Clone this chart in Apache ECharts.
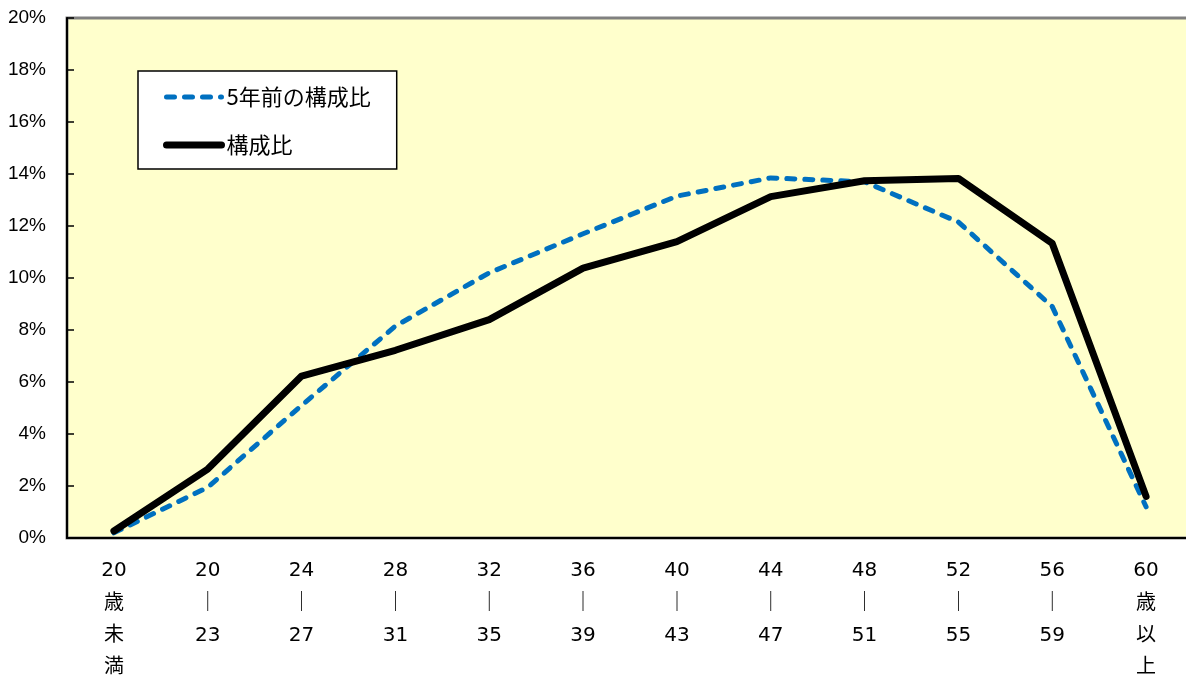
<!DOCTYPE html>
<html>
<head>
<meta charset="utf-8">
<script src="https://cdn.jsdelivr.net/npm/echarts@6/dist/echarts.min.js"></script>
<style>
  html, body { margin: 0; padding: 0; background: #ffffff; }
  #chart { width: 1186px; height: 680px; }
</style>
</head>
<body>
<div id="chart"></div>
<script>
// Age bands (years of age) shown along the horizontal axis
const categories = [
  '20\n歳\n未\n満', '20\n｜\n23', '24\n｜\n27', '28\n｜\n31', '32\n｜\n35', '36\n｜\n39',
  '40\n｜\n43', '44\n｜\n47', '48\n｜\n51', '52\n｜\n55', '56\n｜\n59', '60\n歳\n以\n上'
];

// Share of each age band (%)
const prevShare = [0.2, 1.95, 5.1, 8.15, 10.2, 11.7, 13.15, 13.85, 13.7, 12.15, 8.9, 1.2];
const currShare = [0.27, 2.65, 6.23, 7.22, 8.4, 10.38, 11.4, 13.13, 13.74, 13.83, 11.33, 1.6];

const seriesNames = ['5年前の構成比', '構成比'];
const yTicks = { min: 0, max: 20, interval: 2 };

const BLUE = '#0070C0';
const jpFont = '"Noto Sans CJK JP", "Noto Sans", sans-serif';
const numFont = '"DejaVu Sans", "Noto Sans CJK JP", sans-serif';

const blueLine = { color: BLUE, width: 5, type: [8, 10], cap: 'round', join: 'round' };
const blackLine = { color: '#000000', width: 7, cap: 'round', join: 'round' };

const chart = echarts.init(document.getElementById('chart'));

chart.setOption({
  animation: false,
  backgroundColor: '#ffffff',
  grid: {
    left: 67, top: 18, width: 1126, height: 520,
    containLabel: false,
    outerBoundsMode: 'none',
    show: true,
    backgroundColor: '#FFFFCC',
    borderColor: '#808080',
    borderWidth: 3
  },
  legend: {
    orient: 'vertical',
    left: 138, top: 71,
    backgroundColor: '#ffffff',
    borderColor: '#000000',
    borderWidth: 1.5,
    padding: [15, 26, 13, 25],
    itemGap: 26,
    itemWidth: 55,
    itemHeight: 8,
    textStyle: { fontFamily: jpFont, fontSize: 22, color: '#000000' },
    data: [
      { name: seriesNames[0], itemStyle: { opacity: 0 }, lineStyle: blueLine },
      { name: seriesNames[1], itemStyle: { opacity: 0 }, lineStyle: blackLine }
    ]
  },
  xAxis: {
    type: 'category',
    data: categories,
    boundaryGap: true,
    axisLine: { lineStyle: { color: '#000000', width: 2 } },
    axisTick: { inside: true, length: 8, lineStyle: { color: '#000000', width: 1.5 } },
    axisLabel: {
      interval: 0,
      margin: 17,
      fontFamily: numFont,
      fontSize: 20,
      lineHeight: 32.3,
      color: '#000000'
    }
  },
  yAxis: {
    type: 'value',
    min: yTicks.min, max: yTicks.max, interval: yTicks.interval,
    splitLine: { show: false },
    axisLine: { show: true, lineStyle: { color: '#000000', width: 2 } },
    axisTick: { show: true, inside: true, length: 7, lineStyle: { color: '#000000', width: 1.5 } },
    axisLabel: {
      formatter: '{value}%',
      margin: 21,
      fontFamily: '"Liberation Sans", Arial, sans-serif',
      fontSize: 19,
      color: '#000000'
    }
  },
  series: [
    {
      name: seriesNames[0],
      type: 'line',
      data: prevShare,
      symbol: 'none',
      z: 2,
      lineStyle: blueLine,
      itemStyle: { color: BLUE }
    },
    {
      name: seriesNames[1],
      type: 'line',
      data: currShare,
      symbol: 'none',
      z: 3,
      lineStyle: blackLine,
      itemStyle: { color: '#000000' }
    }
  ]
});
</script>
</body>
</html>
